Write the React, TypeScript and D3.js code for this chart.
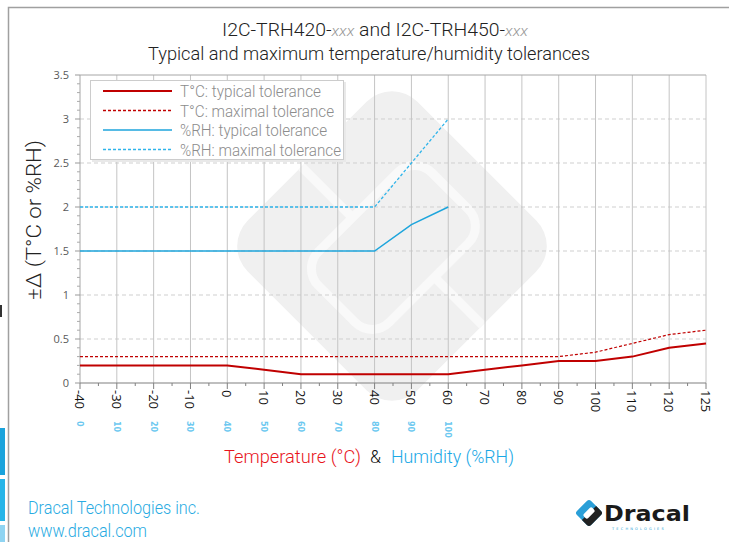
import React from "react";
import * as d3 from "d3";

// categories on the x axis (temperature, °C) – the axis is categorical, so 125 sits one step after 120
const categories = [-40, -30, -20, -10, 0, 10, 20, 30, 40, 50, 60, 70, 80, 90, 100, 110, 120, 125];
// humidity labels printed (tiny) under the first categories
const humidityLabels = [0, 10, 20, 30, 40, 50, 60, 70, 80, 90, 100];

const tempTypical = [0.2, 0.2, 0.2, 0.2, 0.2, 0.15, 0.1, 0.1, 0.1, 0.1, 0.1, 0.15, 0.2, 0.25, 0.25, 0.3, 0.4, 0.45];
const tempMax = [0.3, 0.3, 0.3, 0.3, 0.3, 0.3, 0.3, 0.3, 0.3, 0.3, 0.3, 0.3, 0.3, 0.3, 0.35, 0.45, 0.55, 0.6];
const rhTypical = [1.5, 1.5, 1.5, 1.5, 1.5, 1.5, 1.5, 1.5, 1.5, 1.8, 2.0];
const rhMax = [2, 2, 2, 2, 2, 2, 2, 2, 2, 2.5, 3.0];

const yTicks = [0, 0.5, 1, 1.5, 2, 2.5, 3, 3.5];

const RED = "#c00000";
const BLUE = "#1ea5dc";
const thin = "Roboto, 'Liberation Sans', sans-serif";

const series = [
  { name: "T°C: typical tolerance", values: tempTypical, color: RED, width: 2, dash: "", len: 141 },
  { name: "T°C: maximal tolerance", values: tempMax, color: RED, width: 1.2, dash: "3,2", len: 154 },
  { name: "%RH: typical tolerance", values: rhTypical, color: BLUE, width: 1.5, dash: "", len: 147 },
  { name: "%RH: maximal tolerance", values: rhMax, color: "#2fb4ea", width: 1.3, dash: "3,2", len: 161 },
];

export default function App() {
  const left = 80, right = 706, top = 75, bottom = 383;
  const x = d3.scalePoint<string>().domain(categories.map(String)).range([left, right]);
  const y = d3.scaleLinear().domain([0, 3.5]).range([bottom, top]);
  const step = x.step();

  const line = d3
    .line<number>()
    .x((_, i) => x(String(categories[i])) as number)
    .y((d) => y(d));

  const minorY = d3.range(0, 3.5, 0.1).filter((v) => Math.abs((v * 2) % 1) > 0.01);

  const cond = { fontFamily: thin, fontWeight: 300, lengthAdjust: "spacingAndGlyphs" as const };

  return (
    <svg width={729} height={542} style={{ position: "absolute", left: 0, top: 0 }}>
      <rect x={0} y={0} width={729} height={542} fill="#fff" />
      {/* frame */}
      <rect x={8.5} y={7.5} width={740} height={560} fill="none" stroke="#a0a0a0" strokeWidth={1.5} />
      {/* left edge fragments */}
      <rect x={0} y={428} width={5} height={47} fill="#1aa3dc" />
      <rect x={0} y={479} width={5} height={42} fill="#26b5e8" />
      <rect x={0} y={525} width={5} height={17} fill="#8fd4f2" />
      <rect x={0} y={305} width={2} height={12} fill="#333" />

      {/* watermark */}
      <g transform="translate(392,246) rotate(45)">
        <rect x={-120} y={-120} width={240} height={240} rx={36} fill="#f0f0f0" />
        <rect x={-48} y={-80} width={100} height={160} rx={24} fill="none" stroke="#f9f9f9" strokeWidth={9} />
        <line x1={-120} y1={8} x2={-44} y2={8} stroke="#f9f9f9" strokeWidth={9} />
        <line x1={48} y1={-8} x2={120} y2={-8} stroke="#f9f9f9" strokeWidth={9} />
      </g>

      {/* titles */}
      <text x={222} y={36} {...cond} fontSize={18} fill="#222" textLength={306}>
        I2C-TRH420-<tspan fill="#999" fontStyle="italic" fontSize={15}>xxx</tspan>
        {"  and  I2C-TRH450-"}
        <tspan fill="#999" fontStyle="italic" fontSize={15}>xxx</tspan>
      </text>
      <text x={148} y={60} {...cond} fontSize={19} fill="#222" textLength={442}>
        Typical and maximum temperature/humidity tolerances
      </text>

      {/* horizontal grid */}
      {yTicks.slice(1, -1).map((t) => (
        <line key={"hg" + t} x1={left} x2={right} y1={y(t)} y2={y(t)} stroke="#cfcfcf" strokeDasharray="4,3" />
      ))}
      {/* vertical grid */}
      {categories.slice(1).map((c) => (
        <line key={"vg" + c} x1={x(String(c))} x2={x(String(c))} y1={top} y2={bottom} stroke="#c4c4c4" />
      ))}
      <line x1={left} x2={right} y1={top} y2={top} stroke="#a6a6a6" />

      {/* y axis */}
      <line x1={left} x2={left} y1={top} y2={bottom} stroke="#a6a6a6" />
      {yTicks.map((t) => (
        <g key={"yt" + t}>
          <line x1={left - 5} x2={left} y1={y(t)} y2={y(t)} stroke="#999" />
          <text x={left - 11} y={y(t) + 4} textAnchor="end" fontFamily="'Open Sans', sans-serif" fontSize={11} fill="#595959">
            {t}
          </text>
        </g>
      ))}
      {minorY.map((t) => (
        <line key={"ym" + t} x1={left - 3} x2={left} y1={y(t)} y2={y(t)} stroke="#aaa" />
      ))}
      <text transform="translate(41,300) rotate(-90)" {...cond} fontSize={21} fill="#222" textLength={160}>
        ±Δ (T°C or %RH)
      </text>

      {/* series */}
      {series.map((s) => (
        <path
          key={s.name}
          d={line(s.values) as string}
          fill="none"
          stroke={s.color}
          strokeWidth={s.width}
          strokeDasharray={s.dash}
        />
      ))}

      {/* x axis */}
      <line x1={left} x2={right} y1={bottom} y2={bottom} stroke="#808080" strokeWidth={1.2} />
      {categories.map((c, i) => (
        <g key={"xt" + c}>
          <line x1={x(String(c))} x2={x(String(c))} y1={bottom} y2={bottom + 6} stroke="#808080" />
          {i < categories.length - 1 && (
            <line
              x1={(x(String(c)) as number) + step / 2}
              x2={(x(String(c)) as number) + step / 2}
              y1={bottom}
              y2={bottom + 3}
              stroke="#808080"
            />
          )}
          <text
            transform={`translate(${(x(String(c)) as number) - 5},${bottom + 7}) rotate(90)`}
            fontFamily="'Open Sans', sans-serif"
            fontSize={13}
            fill="#111"
          >
            {c}
          </text>
        </g>
      ))}
      {humidityLabels.map((h, i) => (
        <text
          key={"hl" + h}
          transform={`translate(${(x(String(categories[i])) as number) - 3},${421}) rotate(90)`}
          fontFamily="'DejaVu Sans', sans-serif"
          fontWeight="bold"
          fontSize={8}
          fill="#6cc8f0"
        >
          {h}
        </text>
      ))}

      {/* x axis title */}
      <text x={224} y={463} {...cond} fontSize={18} fill="#e8141c" textLength={137}>
        Temperature (°C)
      </text>
      <text x={370} y={463} {...cond} fontSize={18} fill="#111" textLength={11}>
        &amp;
      </text>
      <text x={391} y={463} {...cond} fontSize={18} fill="#1aa8e6" textLength={123}>
        Humidity (%RH)
      </text>

      {/* legend */}
      <rect x={92} y={82} width={254} height={80} fill="#e9e9e9" />
      <rect x={90.5} y={80.5} width={253} height={79} fill="#fff" stroke="#cccccc" />
      {series.map((s, i) => (
        <g key={"lg" + i}>
          <line
            x1={103}
            x2={172}
            y1={91 + i * 19.5}
            y2={91 + i * 19.5}
            stroke={s.color}
            strokeWidth={s.width === 2 ? 2 : 1.3}
            strokeDasharray={s.dash}
          />
          <text x={180} y={97 + i * 19.5} {...cond} fontSize={16} fill="#8c8c8c" textLength={s.len}>
            {s.name}
          </text>
        </g>
      ))}

      {/* footer */}
      <text x={28} y={514} {...cond} fontSize={18} fill="#29abe2" textLength={172}>
        Dracal Technologies inc.
      </text>
      <text x={28} y={537} {...cond} fontSize={18} fill="#29abe2" textLength={119}>
        www.dracal.com
      </text>

      {/* logo */}
      <g transform="translate(589,513) rotate(45)">
        <rect x={-10} y={-10} width={20} height={20} rx={3} fill="#2a9fd8" />
        <path d="M0,-10 L7,-10 Q10,-10 10,-7 L10,7 Q10,10 7,10 L0,10 Z" fill="#222" />
        <rect x={-3} y={-6} width={6} height={12} rx={2} fill="#fff" />
      </g>
      <text x={604} y={521} fontFamily="'DejaVu Sans', sans-serif" fontWeight="bold" fontSize={21} fill="#1a1a1a" textLength={86} lengthAdjust="spacingAndGlyphs">
        Dracal
      </text>
      <text x={612} y={530} fontFamily="'DejaVu Sans', sans-serif" fontSize={3.5} letterSpacing={2.2} fill="#2a9fd8">
        TECHNOLOGIES
      </text>
    </svg>
  );
}
